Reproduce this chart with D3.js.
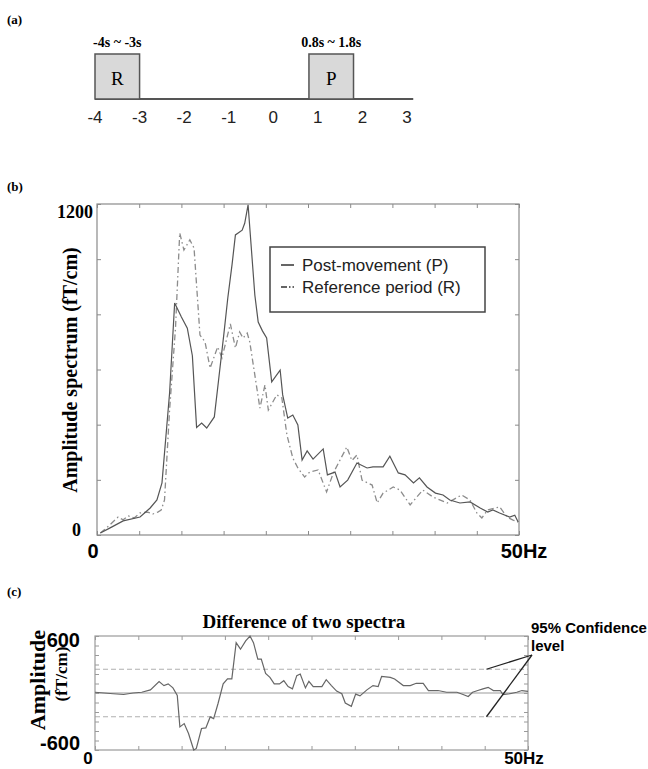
<!DOCTYPE html>
<html>
<head>
<meta charset="utf-8">
<script src="https://cdn.jsdelivr.net/npm/d3@7"></script>
<style>
  html, body { margin: 0; padding: 0; background: #fff; }
  svg { display: block; }
</style>
</head>
<body>
<script>
// ---- (a) timeline ----
const timeTicks = [-4, -3, -2, -1, 0, 1, 2, 3];
const windowNames = ["R", "P"];
const windowStart = [-4, 0.8];
const windowEnd = [-3, 1.8];
const windowLabels = ["-4s ~ -3s", "0.8s ~ 1.8s"];

// ---- (b) amplitude spectra (fT/cm) ----
const postFreq = [0.4, 1.5, 3.1, 5.1, 6.3, 7.1, 7.7, 8.6, 9.2, 10.0, 10.7, 11.3, 11.8, 12.4, 13.0, 13.9,
  14.4, 15.0, 15.5, 16.0, 16.4, 17.2, 17.5, 17.9, 18.7, 19.1, 19.6, 20.1, 20.7, 21.7, 22.0, 22.6, 23.2,
  23.8, 24.3, 24.9, 25.6, 26.8, 27.3, 28.2, 28.8, 29.7, 30.8, 32.0, 32.7, 33.9, 34.7, 35.7, 36.5, 37.5,
  38.2, 39.1, 40.1, 41.0, 41.8, 43.0, 44.2, 45.4, 46.3, 46.9, 47.7, 48.9, 49.5, 49.9];
const postAmp = [7, 25, 51, 65, 98, 127, 189, 515, 841, 790, 750, 650, 390, 406, 388, 428,
  560, 720, 860, 980, 1088, 1105, 1130, 1197, 870, 772, 740, 714, 555, 598, 508, 424, 435,
  399, 272, 305, 275, 312, 218, 228, 174, 199, 261, 243, 247, 247, 286, 225, 218, 189,
  207, 174, 152, 145, 127, 116, 120, 98, 83, 91, 80, 65, 72, 47];

const refFreq = [0.4, 1.5, 2.5, 3.1, 3.7, 4.4, 5.1, 6.0, 6.6, 7.2, 7.6, 8.0, 8.6, 9.3, 9.8, 10.3, 11.0,
  11.5, 12.2, 12.8, 13.4, 14.3, 14.8, 15.8, 16.4, 16.9, 17.3, 17.8, 18.1, 19.3, 19.9, 20.3, 21.3, 21.9,
  22.5, 23.2, 23.8, 24.6, 25.2, 26.2, 27.2, 28.0, 29.6, 30.2, 30.8, 31.4, 32.6, 33.2, 33.9, 35.1, 35.9,
  37.1, 38.6, 39.8, 41.5, 43.2, 44.2, 45.0, 45.6, 46.3, 47.7, 48.6, 49.3, 49.9];
const refAmp = [7, 36, 65, 55, 69, 62, 80, 83, 76, 83, 90, 127, 453, 750, 1095, 1033, 1070,
  1040, 725, 700, 605, 682, 642, 765, 678, 736, 714, 732, 700, 460, 544, 453, 508, 497,
  363, 279, 243, 210, 228, 236, 156, 225, 319, 270, 290, 199, 181, 116, 152, 174, 163,
  109, 163, 138, 116, 145, 127, 80, 62, 91, 102, 65, 54, 47];

const legendLabels = ["Post-movement (P)", "Reference period (R)"];

// ---- (c) difference of the two spectra ----
const diffFreq = [0, 2.1, 3.3, 4.4, 5.4, 6.4, 7.4, 7.96, 8.45, 9.0, 9.5, 9.8, 10.3, 10.8, 11.4, 11.7,
  12.3, 12.8, 13.3, 13.7, 14.2, 14.8, 15.3, 15.8, 16.3, 16.8, 17.4, 17.9, 18.3, 18.8, 19.2, 19.7, 20.2,
  20.7, 21.3, 21.8, 22.3, 22.8, 23.3, 23.7, 24.3, 24.7, 25.2, 26.2, 26.7, 27.3, 27.9, 28.5, 28.9, 29.6,
  30.1, 30.6, 31.4, 32.1, 32.7, 33.1, 34.1, 34.6, 35.6, 36.4, 37.1, 37.9, 38.5, 39.6, 40.6, 41.8, 42.5,
  43.1, 43.6, 44.2, 44.8, 45.4, 46.0, 46.8, 47.1, 47.9, 48.7, 49.3, 50];
const diffAmp = [8, -8, -16, 0, 8, 33, 120, 78, 96, 54, -26, -357, -322, -426, -600, -583,
  -374, -367, -252, -270, -113, 96, 148, 148, 530, 461, 548, 600, 530, 357, 357, 207, 165,
  96, 96, 130, 68, 44, 183, 200, 54, 123, 68, 68, 140, 78, 20, -8, -106, -140,
  -12, -30, 33, 78, 68, 175, 165, 148, 78, 78, 102, 102, 26, 26, 8, 8, -16,
  -37, 8, 26, 44, 60, 26, 26, -16, -8, 8, 26, 18];
const confidenceLevel = [250, -250];

const SERIF = "'Liberation Serif', 'Times New Roman', serif";
const SANS = "'Liberation Sans', Arial, sans-serif";

const svg = d3.select("body").append("svg")
  .attr("width", 648).attr("height", 769);

function panelLetter(txt, y) {
  svg.append("text").attr("x", 7).attr("y", y)
    .attr("font-family", SERIF).attr("font-weight", "bold").attr("font-size", 13)
    .text(txt);
}

// boxed axes with inward ticks on all four sides
function frame(g, x, y, nx, ny, color) {
  const [x0, x1] = x.range();
  const [y0, y1] = y.range();
  const sides = [
    [d3.axisBottom(x).ticks(nx), `translate(0,${y0})`],
    [d3.axisTop(x).ticks(nx), `translate(0,${y1})`],
    [d3.axisLeft(y).ticks(ny), `translate(${x0},0)`],
    [d3.axisRight(y).ticks(ny), `translate(${x1},0)`]
  ];
  sides.forEach(([ax, tr]) => {
    const a = g.append("g").attr("transform", tr)
      .call(ax.tickSize(-4).tickFormat(""));
    a.select(".domain").remove();
    a.selectAll(".tick line").attr("stroke", color).attr("stroke-width", 1);
  });
  g.append("rect")
    .attr("x", x0).attr("y", y1)
    .attr("width", x1 - x0).attr("height", y0 - y1)
    .attr("fill", "none").attr("stroke", color).attr("stroke-width", 1.2);
}

// ================= (a) =================
panelLetter("(a)", 24);
{
  const t = d3.scaleLinear().domain([-4, 3]).range([95, 407]);
  const g = svg.append("g");
  const baseY = 99, boxTop = 54;
  g.append("line")
    .attr("x1", t(-4)).attr("x2", t(3.14))
    .attr("y1", baseY).attr("y2", baseY)
    .attr("stroke", "#555").attr("stroke-width", 2);
  windowNames.forEach((nm, i) => {
    const xa = t(windowStart[i]), xb = t(windowEnd[i]);
    g.append("rect")
      .attr("x", xa).attr("y", boxTop)
      .attr("width", xb - xa).attr("height", baseY - boxTop)
      .attr("fill", "#d9d9d9").attr("stroke", "#555").attr("stroke-width", 1.5);
    g.append("text")
      .attr("x", (xa + xb) / 2).attr("y", 85)
      .attr("text-anchor", "middle")
      .attr("font-family", SERIF).attr("font-size", 19)
      .text(nm);
    g.append("text")
      .attr("x", (xa + xb) / 2).attr("y", 47)
      .attr("text-anchor", "middle")
      .attr("font-family", SERIF).attr("font-weight", "bold").attr("font-size", 14)
      .text(windowLabels[i]);
  });
  g.selectAll("text.tt").data(timeTicks).join("text")
    .attr("class", "tt")
    .attr("x", d => t(d)).attr("y", 123)
    .attr("text-anchor", "middle")
    .attr("font-family", SANS).attr("font-size", 17).attr("fill", "#222")
    .text(d => d);
}

// ================= (b) =================
panelLetter("(b)", 191);
{
  const x = d3.scaleLinear().domain([0, 50]).range([97, 519]);
  const y = d3.scaleLinear().domain([0, 1200]).range([535, 204]);
  const g = svg.append("g");
  frame(g, x, y, 10, 6, "#8a8a8a");

  const line = d3.line().x(d => x(d[0])).y(d => y(d[1]));
  g.append("path")
    .datum(refFreq.map((f, i) => [f, refAmp[i]]))
    .attr("d", line).attr("fill", "none")
    .attr("stroke", "#8c8c8c").attr("stroke-width", 1.3)
    .attr("stroke-dasharray", "6,3,1.5,3");
  g.append("path")
    .datum(postFreq.map((f, i) => [f, postAmp[i]]))
    .attr("d", line).attr("fill", "none")
    .attr("stroke", "#555").attr("stroke-width", 1.2);

  // legend
  const lg = g.append("g");
  lg.append("rect").attr("x", 270).attr("y", 247).attr("width", 215).attr("height", 65)
    .attr("fill", "#fff").attr("stroke", "#444").attr("stroke-width", 1.5);
  const styles = [{ c: "#333", d: null }, { c: "#333", d: "6,2,1.5,2" }];
  legendLabels.forEach((lab, i) => {
    const yy = 265 + i * 22;
    lg.append("line").attr("x1", 281).attr("x2", 294).attr("y1", yy).attr("y2", yy)
      .attr("stroke", styles[i].c).attr("stroke-width", 1.5)
      .attr("stroke-dasharray", styles[i].d);
    lg.append("text").attr("x", 302).attr("y", yy + 6)
      .attr("font-family", SANS).attr("font-size", 17).attr("fill", "#222")
      .text(lab);
  });

  // axis labels
  g.append("text").attr("x", 93).attr("y", y(1200) + 14)
    .attr("text-anchor", "end")
    .attr("font-family", SERIF).attr("font-weight", "bold").attr("font-size", 18)
    .text("1200");
  g.append("text").attr("x", 81).attr("y", y(0) + 1)
    .attr("text-anchor", "end")
    .attr("font-family", SERIF).attr("font-weight", "bold").attr("font-size", 18)
    .text("0");
  g.append("text").attr("x", x(0) - 4).attr("y", 558)
    .attr("text-anchor", "middle")
    .attr("font-family", SANS).attr("font-weight", "bold").attr("font-size", 20)
    .text("0");
  g.append("text").attr("x", x(50) + 5).attr("y", 558)
    .attr("text-anchor", "middle")
    .attr("font-family", SANS).attr("font-weight", "bold").attr("font-size", 20)
    .text("50Hz");
  g.append("text")
    .attr("transform", `translate(77,${370}) rotate(-90)`)
    .attr("text-anchor", "middle")
    .attr("font-family", SERIF).attr("font-weight", "bold").attr("font-size", 20)
    .text("Amplitude spectrum (fT/cm)");
}

// ================= (c) =================
panelLetter("(c)", 596);
{
  const x = d3.scaleLinear().domain([0, 50]).range([95, 528]);
  const y = d3.scaleLinear().domain([-600, 600]).range([750, 636]);
  const g = svg.append("g");

  // zero line and confidence bounds
  g.append("line").attr("x1", x(0)).attr("x2", x(50)).attr("y1", y(0)).attr("y2", y(0))
    .attr("stroke", "#bdbdbd").attr("stroke-width", 1.3);
  g.selectAll("line.ci").data(confidenceLevel).join("line")
    .attr("class", "ci")
    .attr("x1", x(0)).attr("x2", x(50))
    .attr("y1", d => y(d)).attr("y2", d => y(d))
    .attr("stroke", "#b0b0b0").attr("stroke-width", 1.1)
    .attr("stroke-dasharray", "5,3");

  frame(g, x, y, 10, 10, "#9a9a9a");

  const line = d3.line().x(d => x(d[0])).y(d => y(d[1]));
  g.append("path")
    .datum(diffFreq.map((f, i) => [f, diffAmp[i]]))
    .attr("d", line).attr("fill", "none")
    .attr("stroke", "#666").attr("stroke-width", 1.2);

  g.append("text").attr("x", 304).attr("y", 628)
    .attr("text-anchor", "middle")
    .attr("font-family", SERIF).attr("font-weight", "bold").attr("font-size", 19)
    .text("Difference of two spectra");

  // annotation pointing at the confidence bounds
  const tip = [532, 655];
  confidenceLevel.forEach(v => {
    g.append("line")
      .attr("x1", tip[0]).attr("y1", tip[1])
      .attr("x2", x(45.2)).attr("y2", y(v))
      .attr("stroke", "#222").attr("stroke-width", 1.3);
  });
  g.append("text").attr("x", 531).attr("y", 633)
    .attr("font-family", SANS).attr("font-weight", "bold").attr("font-size", 15)
    .text("95% Confidence");
  g.append("text").attr("x", 531).attr("y", 651)
    .attr("font-family", SANS).attr("font-weight", "bold").attr("font-size", 15)
    .text("level");

  g.append("text").attr("x", 80).attr("y", y(600) + 11)
    .attr("text-anchor", "end")
    .attr("font-family", SANS).attr("font-weight", "bold").attr("font-size", 20)
    .text("600");
  g.append("text").attr("x", 80).attr("y", y(-600) + 0)
    .attr("text-anchor", "end")
    .attr("font-family", SANS).attr("font-weight", "bold").attr("font-size", 20)
    .text("-600");
  g.append("text").attr("x", x(0) - 7).attr("y", 764)
    .attr("text-anchor", "middle")
    .attr("font-family", SANS).attr("font-weight", "bold").attr("font-size", 17)
    .text("0");
  g.append("text").attr("x", x(50) - 4).attr("y", 764)
    .attr("text-anchor", "middle")
    .attr("font-family", SANS).attr("font-weight", "bold").attr("font-size", 17)
    .text("50Hz");
  g.append("text")
    .attr("transform", `translate(45,680) rotate(-90)`)
    .attr("text-anchor", "middle")
    .attr("font-family", SERIF).attr("font-weight", "bold").attr("font-size", 22)
    .text("Amplitude");
  g.append("text")
    .attr("transform", `translate(67,674) rotate(-90)`)
    .attr("text-anchor", "middle")
    .attr("font-family", SERIF).attr("font-weight", "bold").attr("font-size", 17)
    .text("(fT/cm)");
}
</script>
</body>
</html>
